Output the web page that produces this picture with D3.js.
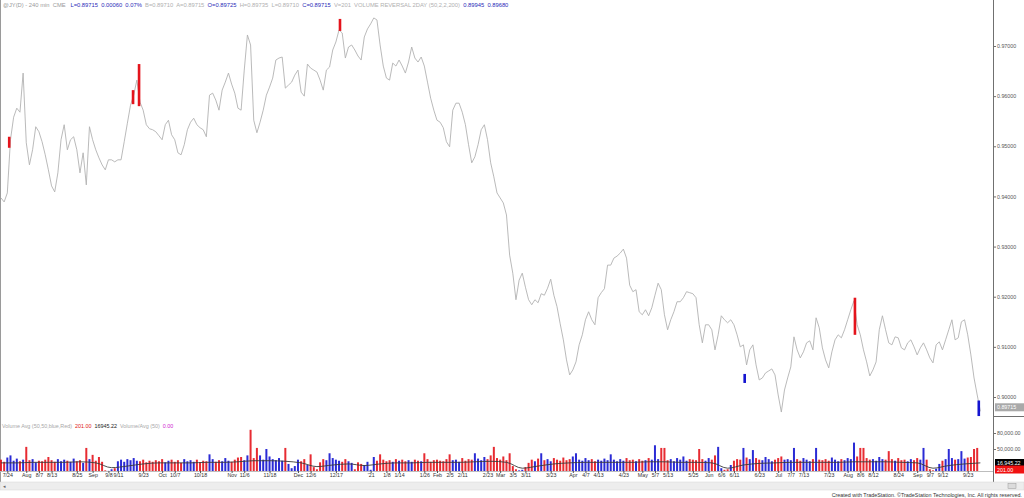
<!DOCTYPE html>
<html>
<head>
<meta charset="utf-8">
<script src="https://cdn.jsdelivr.net/npm/d3@7"></script>
<style>
  body { margin: 0; background: #fff; }
  svg text { font-family: "Liberation Sans", Arial, sans-serif; }
</style>
</head>
<body>
<div id="chart"></div>
<script>
// trading day 0 of the series
var startDate = "2020-07-22";

// one close per trading day
var closes = [
  0.9397, 0.9389, 0.9407, 0.9513, 0.9558, 0.9576, 0.9568, 0.9646, 0.9507, 0.9463,
  0.9493, 0.9539, 0.9529, 0.9509, 0.9483, 0.9453, 0.9421, 0.9409, 0.9447, 0.9513,
  0.9543, 0.9493, 0.9513, 0.9519, 0.9493, 0.9447, 0.9487, 0.9423, 0.9539, 0.9513,
  0.9493, 0.9477, 0.9463, 0.9453, 0.9473, 0.9473, 0.9469, 0.9473, 0.9473, 0.9509,
  0.9546, 0.9582, 0.9602, 0.9632, 0.9588, 0.9572, 0.9543, 0.9535, 0.9533, 0.9529,
  0.9521, 0.9513, 0.9543, 0.9552, 0.9523, 0.9513, 0.9487, 0.9483, 0.9503, 0.9533,
  0.9548, 0.9556, 0.9543, 0.9537, 0.9533, 0.9519, 0.9602, 0.9606, 0.9592, 0.9572,
  0.9612, 0.9628, 0.9646, 0.9624, 0.9606, 0.9576, 0.9572, 0.9652, 0.9722, 0.9702,
  0.9552, 0.9527, 0.9548, 0.9572, 0.9602, 0.9618, 0.9636, 0.9672, 0.9676, 0.9678,
  0.9616, 0.9622, 0.9628, 0.9642, 0.9652, 0.9608, 0.9600, 0.9664, 0.9656, 0.9652,
  0.9648, 0.9632, 0.9612, 0.9652, 0.9658, 0.9692, 0.9708, 0.9732, 0.9726, 0.9676,
  0.9698, 0.9702, 0.9692, 0.9680, 0.9672, 0.9718, 0.9734, 0.9744, 0.9756, 0.9752,
  0.9702, 0.9660, 0.9636, 0.9632, 0.9666, 0.9660, 0.9672, 0.9660, 0.9646, 0.9668,
  0.9698, 0.9676, 0.9668, 0.9678, 0.9660, 0.9628, 0.9596, 0.9572, 0.9552, 0.9548,
  0.9537, 0.9509, 0.9499, 0.9572, 0.9586, 0.9586, 0.9568, 0.9543, 0.9503, 0.9467,
  0.9479, 0.9503, 0.9533, 0.9543, 0.9513, 0.9467, 0.9439, 0.9407, 0.9397, 0.9387,
  0.9363, 0.9283, 0.9247, 0.9194, 0.9233, 0.9247, 0.9219, 0.9194, 0.9184, 0.9194,
  0.9188, 0.9206, 0.9203, 0.9217, 0.9235, 0.9203, 0.9180, 0.9146, 0.9114, 0.9074,
  0.9044, 0.9054, 0.9070, 0.9104, 0.9124, 0.9154, 0.9170, 0.9154, 0.9144, 0.9198,
  0.9208, 0.9216, 0.9263, 0.9263, 0.9277, 0.9281, 0.9287, 0.9295, 0.9277, 0.9223,
  0.9210, 0.9214, 0.9170, 0.9164, 0.9174, 0.9162, 0.9178, 0.9203, 0.9227, 0.9214,
  0.9164, 0.9134, 0.9154, 0.9170, 0.9190, 0.9190, 0.9198, 0.9210, 0.9208, 0.9206,
  0.9198, 0.9144, 0.9108, 0.9144, 0.9144, 0.9134, 0.9094, 0.9124, 0.9162, 0.9154,
  0.9148, 0.9154, 0.9144, 0.9124, 0.9100, 0.9104, 0.9064, 0.9094, 0.9104, 0.9064,
  0.9034, 0.9038, 0.9048, 0.9052, 0.9056, 0.9044, 0.9004, 0.8970, 0.9014, 0.9038,
  0.9060, 0.9120, 0.9094, 0.9078, 0.9090, 0.9108, 0.9112, 0.9094, 0.9158, 0.9138,
  0.9098, 0.9074, 0.9058, 0.9090, 0.9114, 0.9124, 0.9118, 0.9134, 0.9154, 0.9174,
  0.9192, 0.9144, 0.9124, 0.9094, 0.9070, 0.9042, 0.9054, 0.9070, 0.9134, 0.9162,
  0.9134, 0.9108, 0.9104, 0.9120, 0.9118, 0.9098, 0.9094, 0.9108, 0.9114, 0.9100,
  0.9084, 0.9098, 0.9108, 0.9094, 0.9078, 0.9068, 0.9104, 0.9110, 0.9094, 0.9114,
  0.9134, 0.9154, 0.9114, 0.9118, 0.9150, 0.9154, 0.9124, 0.9084, 0.9038, 0.9004,
  0.89715
];

// volume per trading day, in thousands
var volumes = [
  30, 26, 34, 38, 28, 32, 27, 30, 54, 29,
  31, 25, 28, 27, 30, 35, 29, 26, 31, 27,
  30, 28, 26, 32, 27, 29, 24, 52, 31, 39,
  28, 35, 26, 10, 9, 12, 14, 27, 30, 26,
  31, 29, 33, 28, 27, 30, 25, 28, 26, 29,
  27, 31, 25, 28, 30, 26, 29, 24, 31, 27,
  29, 26, 30, 25, 28, 27, 40, 31, 26, 29,
  27, 33, 28, 26, 30, 34, 35, 29, 38, 86,
  33, 52, 38, 30, 50, 36, 31, 29, 33, 28,
  52, 22, 14, 18, 30, 27, 31, 20, 40, 16,
  12, 25, 31, 29, 42, 33, 30, 28, 26, 31,
  27, 24, 12, 25, 22, 20, 26, 11, 35, 28,
  40, 30, 27, 29, 26, 31, 28, 30, 27, 29,
  26, 30, 28, 27, 42, 31, 26, 29, 30, 28,
  27, 31, 40, 29, 30, 26, 33, 28, 31, 30,
  42, 32, 29, 35, 31, 38, 54, 33, 30, 36,
  29, 42, 18, 12, 10, 11, 16, 24, 30, 27,
  32, 42, 29, 31, 27, 33, 30, 28, 34, 29,
  31, 36, 42, 30, 28, 33, 29, 31, 27, 30,
  28, 32, 29, 40, 30, 27, 31, 28, 33, 29,
  30, 27, 31, 28, 29, 33, 30, 57, 31, 52,
  52, 29, 31, 27, 33, 30, 36, 28, 31, 30,
  29, 50, 31, 28, 33, 30, 38, 54, 14, 11,
  12, 20, 28, 31, 30, 52, 34, 31, 48, 33,
  30, 29, 35, 31, 27, 30, 33, 36, 30, 31,
  29, 52, 31, 28, 33, 30, 27, 31, 52, 30,
  29, 31, 28, 34, 30, 27, 31, 29, 33, 31,
  62, 36, 52, 52, 33, 30, 31, 28, 35, 31,
  30, 46, 31, 28, 33, 29, 30, 27, 31, 29,
  33, 30, 52, 30, 12, 10, 13, 22, 28, 31,
  50, 33, 30, 31, 46, 32, 34, 35, 50, 52,
  8
];

// 50-bar volume average, read every 5 trading days, in thousands
var volAvgStep = 5;
var volAvg = [
  24, 24, 25, 25, 25, 26, 24, 15, 18, 22,
  24, 24, 24, 25, 25, 26, 28, 28, 27, 24,
  17, 20, 22, 19, 22, 24, 24, 25, 25, 25,
  26, 27, 25, 14, 18, 22, 24, 25, 25, 25,
  25, 26, 26, 25, 25, 24, 14, 20, 23, 24,
  25, 25, 25, 25, 26, 26, 26, 25, 24, 14,
  19, 22, 24
];

// volume reversal bars: trading day, low, high, direction
var reversalDay = [2.6, 41.8, 43.7, 107.3, 235.4, 270.3, 309.5];
var reversalLow = [0.9497, 0.9584, 0.9580, 0.9730, 0.9028, 0.9124, 0.8962];
var reversalHigh = [0.9519, 0.9612, 0.9664, 0.9754, 0.9046, 0.9198, 0.8993];
var reversalDir = ["dn", "dn", "dn", "dn", "up", "dn", "up"];

var priceTicks = [0.90, 0.91, 0.92, 0.93, 0.94, 0.95, 0.96, 0.97];
var volTicks = [50000, 80000];

var tickDates = ["2020-07-24", "2020-08-03", "2020-08-07", "2020-08-13", "2020-08-25",
  "2020-09-01", "2020-09-08", "2020-09-11", "2020-09-23", "2020-10-01", "2020-10-07",
  "2020-10-18", "2020-11-02", "2020-11-06", "2020-11-18", "2020-12-01", "2020-12-06",
  "2020-12-17", "2021-01-01", "2021-01-08", "2021-01-14", "2021-01-26", "2021-02-01",
  "2021-02-05", "2021-02-11", "2021-02-23", "2021-03-01", "2021-03-05", "2021-03-11",
  "2021-03-23", "2021-04-01", "2021-04-07", "2021-04-13", "2021-04-23", "2021-05-03",
  "2021-05-07", "2021-05-13", "2021-05-25", "2021-06-01", "2021-06-06", "2021-06-11",
  "2021-06-23", "2021-07-01", "2021-07-07", "2021-07-13", "2021-07-23", "2021-08-02",
  "2021-08-06", "2021-08-12", "2021-08-24", "2021-09-01", "2021-09-07", "2021-09-12",
  "2021-09-23"];
var tickLabels = ["7/24", "Aug", "8/7", "8/13", "8/25", "Sep", "9/8", "9/11", "9/23",
  "Oct", "10/7", "10/18", "Nov", "11/6", "11/18", "Dec", "12/6", "12/17", "'21", "1/8",
  "1/14", "1/26", "Feb", "2/5", "2/11", "2/23", "Mar", "3/5", "3/11", "3/23", "Apr",
  "4/7", "4/13", "4/23", "May", "5/7", "5/13", "5/25", "Jun", "6/6", "6/11", "6/23",
  "Jul", "7/7", "7/13", "7/23", "Aug", "8/6", "8/12", "8/24", "Sep", "9/7", "9/12", "9/23"];

function init() {
  var w = 1024, h = 498;
  var plotRight = 993;
  var volBottom = 471;
  var fs = 5.3;
  var red = "#e4141c", blue = "#1414d0";

  // count weekdays from startDate up to the given date
  function dayIndex(s) {
    var d = new Date(startDate + "T00:00:00Z"), end = new Date(s + "T00:00:00Z");
    var n = 0;
    while (d < end) {
      var wd = d.getUTCDay();
      if (wd !== 0 && wd !== 6) n++;
      d.setUTCDate(d.getUTCDate() + 1);
    }
    return n;
  }

  var svg = d3.select("#chart").append("svg")
    .attr("width", w).attr("height", h);

  var x = d3.scaleLinear().domain([0, 314]).range([1, plotRight]);
  var y = d3.scaleLinear().domain([0.90, 0.97]).range([397, 46]);
  var yv = d3.scaleLinear().domain([50000, 80000]).range([449, 433]);

  // frame
  svg.append("line").attr("x1", 0.5).attr("x2", 0.5).attr("y1", 0).attr("y2", 482)
    .attr("stroke", "#9a9a9a");
  svg.append("line").attr("x1", plotRight + 0.5).attr("x2", plotRight + 0.5)
    .attr("y1", 0).attr("y2", 482).attr("stroke", "#707070");
  svg.append("line").attr("x1", plotRight).attr("x2", w).attr("y1", 416.5).attr("y2", 416.5)
    .attr("stroke", "#707070");
  svg.append("line").attr("x1", 0).attr("x2", plotRight).attr("y1", volBottom + 0.5)
    .attr("y2", volBottom + 0.5).attr("stroke", "#bdbdbd");

  // price line
  var line = d3.line()
    .x(function (d, i) { return x(i); })
    .y(function (d) { return y(d); });
  svg.append("path").datum(closes)
    .attr("fill", "none").attr("stroke", "#b2b2b2").attr("stroke-width", 0.9)
    .attr("d", line);

  // reversal bars
  svg.append("g").selectAll("rect")
    .data(reversalDay)
    .enter().append("rect")
    .attr("x", function (d) { return x(d) - 1.3; })
    .attr("width", 2.6)
    .attr("y", function (d, i) { return y(reversalHigh[i]); })
    .attr("height", function (d, i) { return y(reversalLow[i]) - y(reversalHigh[i]); })
    .attr("fill", function (d, i) { return reversalDir[i] === "up" ? blue : red; });

  // volume bars, coloured by the close change
  svg.append("g").selectAll("rect")
    .data(volumes)
    .enter().append("rect")
    .attr("x", function (d, i) { return x(i) - 1; })
    .attr("width", 2)
    .attr("y", function (d) { return Math.min(volBottom, yv(d * 1000)); })
    .attr("height", function (d) { return Math.max(0, volBottom - yv(d * 1000)); })
    .attr("fill", function (d, i) { return (i > 0 && closes[i] >= closes[i - 1]) ? blue : red; })
    .attr("opacity", 0.9);

  var avgLine = d3.line()
    .x(function (d, i) { return x(i * volAvgStep); })
    .y(function (d) { return yv(d * 1000); })
    .curve(d3.curveMonotoneX);
  svg.append("path").datum(volAvg)
    .attr("fill", "none").attr("stroke", "#3a3a3a").attr("stroke-width", 0.9)
    .attr("d", avgLine);

  // right price axis
  var pAxis = svg.append("g")
    .attr("transform", "translate(" + plotRight + ",0)")
    .call(d3.axisRight(y).tickValues(priceTicks).tickSize(3).tickFormat(d3.format(".5f")));
  pAxis.select(".domain").remove();
  pAxis.selectAll("line").attr("stroke", "#707070");
  pAxis.selectAll("text").attr("font-size", fs).attr("fill", "#555").attr("x", 4);

  var vAxis = svg.append("g")
    .attr("transform", "translate(" + plotRight + ",0)")
    .call(d3.axisRight(yv).tickValues(volTicks).tickSize(3).tickFormat(d3.format(",.2f")));
  vAxis.select(".domain").remove();
  vAxis.selectAll("line").attr("stroke", "#707070");
  vAxis.selectAll("text").attr("font-size", fs).attr("fill", "#555").attr("x", 4);

  // last value boxes
  function valueBox(text, bg, yy) {
    svg.append("rect").attr("x", plotRight + 2).attr("y", yy - 4).attr("width", 29).attr("height", 8)
      .attr("fill", bg);
    svg.append("text").attr("x", plotRight + 4).attr("y", yy + 2).attr("font-size", fs)
      .attr("fill", "#fff").text(text);
  }
  var last = closes[closes.length - 1];
  valueBox(d3.format(".5f")(last), "#a9a9a9", y(last) - 4);
  valueBox(d3.format(",.2f")(16945.22), "#000", 463);
  valueBox(d3.format(",.2f")(201), "#f01010", 469.5);

  // date axis
  var tickDays = tickDates.map(dayIndex);
  var xAxis = svg.append("g")
    .attr("transform", "translate(0," + volBottom + ")")
    .call(d3.axisBottom(x).tickValues(tickDays).tickSize(2)
      .tickFormat(function (d, i) { return tickLabels[i]; }));
  xAxis.select(".domain").remove();
  xAxis.selectAll("line").attr("stroke", "#555");
  xAxis.selectAll("text").attr("font-size", fs).attr("fill", "#333").attr("dy", "0.6em").attr("y", 3);

  // header
  var header = [
    ["@JY(D) - 240 min  CME   ", "#9a9a9a"],
    ["L=0.89715  0.00060  0.07%  ", "#2a2ab8"],
    ["B=0.89710  A=0.89715  ", "#b0b0b0"],
    ["O=0.89725  ", "#2a2ab8"],
    ["H=0.89735  L=0.89710  ", "#b0b0b0"],
    ["C=0.89715  ", "#2a2ab8"],
    ["V=201  VOLUME REVERSAL 2DAY (50,2,2,200)  ", "#b0b0b0"],
    ["0.89945  0.89680", "#2a2ab8"]
  ];
  var ht = svg.append("text").attr("x", 3).attr("y", 7).attr("font-size", 5.8)
    .style("white-space", "pre");
  header.forEach(function (p) { ht.append("tspan").attr("fill", p[1]).text(p[0]); });

  var vol = [
    ["Volume Avg (50,50,blue,Red)  ", "#a8a8a8"],
    ["201.00  ", "#e01818"],
    ["16945.22  ", "#222"],
    ["Volume/Avg (50)  ", "#a8a8a8"],
    ["0.00", "#d020d0"]
  ];
  var vt = svg.append("text").attr("x", 2).attr("y", 428).attr("font-size", 5.4)
    .style("white-space", "pre");
  vol.forEach(function (p) { vt.append("tspan").attr("fill", p[1]).text(p[0]); });

  // scrollbar strip
  svg.append("rect").attr("x", 0).attr("y", 482).attr("width", w).attr("height", 8)
    .attr("fill", "#ededed").attr("stroke", "#d6d6d6").attr("stroke-width", 0.5);
  svg.append("text").attr("x", 3).attr("y", 488).attr("font-size", 5).attr("fill", "#666").text("\u25C2");
  svg.append("rect").attr("x", 1008).attr("y", 483.5).attr("width", 8).attr("height", 5)
    .attr("fill", "#dcdcdc").attr("stroke", "#9a9a9a").attr("stroke-width", 0.5);

  // footer
  svg.append("text").attr("x", w - 2).attr("y", 497).attr("text-anchor", "end")
    .attr("font-size", 5.4).attr("fill", "#333")
    .text("Created with TradeStation. \u00A9TradeStation Technologies, Inc. All rights reserved.");
}
window.onload = init;
</script>
</body>
</html>
